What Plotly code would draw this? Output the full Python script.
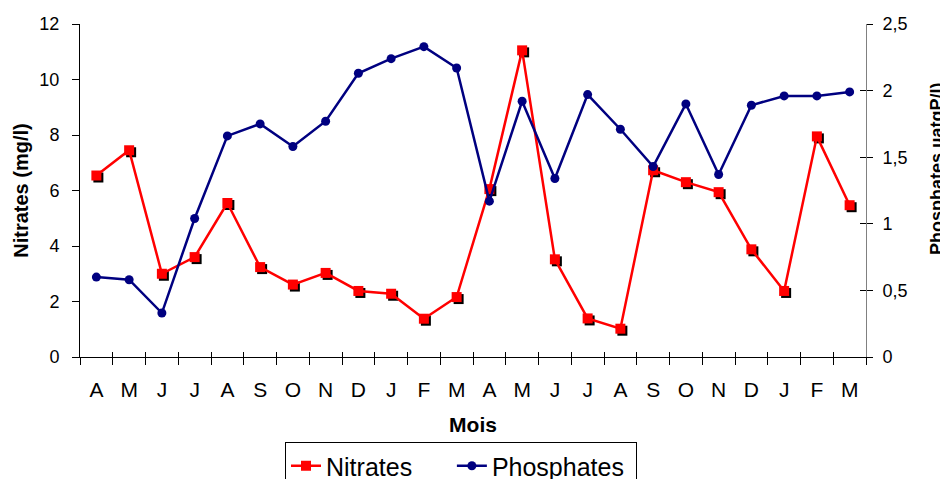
import plotly.graph_objects as go

months = ["A", "M", "J", "J", "A", "S", "O", "N", "D", "J", "F", "M",
          "A", "M", "J", "J", "A", "S", "O", "N", "D", "J", "F", "M"]
nitrates = [6.54, 7.45, 3.00, 3.60, 5.55, 3.24, 2.61, 3.03, 2.38, 2.28, 1.38, 2.16,
            6.05, 11.05, 3.52, 1.39, 1.02, 6.73, 6.30, 5.94, 3.88, 2.38, 7.95, 5.47]
phosphates = [0.60, 0.58, 0.33, 1.04, 1.66, 1.75, 1.58, 1.77, 2.13, 2.24, 2.33, 2.17,
              1.17, 1.92, 1.34, 1.97, 1.71, 1.43, 1.90, 1.37, 1.89, 1.96, 1.96, 1.99]
left_ticks = [0, 2, 4, 6, 8, 10, 12]
right_ticks = [0, 0.5, 1, 1.5, 2, 2.5]
right_ticktext = ["0", "0,5", "1", "1,5", "2", "2,5"]

FONT = "Liberation Sans, Arial, sans-serif"
OFF = 8  # page body margin in the browser
W, H = 948 - OFF, 479 - OFF
ML, MR, MT, MB = 80 - OFF, 80, 24 - OFF, 120
pw, ph = W - ML - MR, H - MT - MB
dx, dy = 2 / pw, 2 / ph
NB = "\u00a0"


def px_x(sx):
    return (sx - 80) / pw


def px_y(sy):
    return (359 - sy) / ph


n = len(months)
xs = list(range(n))
bounds = [i - 0.5 for i in range(n + 1)]
xr = [-0.5, n - 0.5]

fig = go.Figure()
# shadow of nitrate markers
fig.add_trace(go.Scatter(x=xs, y=nitrates, mode="markers", xaxis="x", yaxis="y",
                         marker=dict(symbol="square", size=10, color="black"),
                         showlegend=False, hoverinfo="skip"))
fig.add_trace(go.Scatter(x=xs, y=nitrates, mode="lines+markers", name="Nitrates" + NB * 5,
                         xaxis="x2", yaxis="y2",
                         line=dict(color="#FF0000", width=2.5),
                         marker=dict(symbol="square", size=10, color="#FF0000")))
fig.add_trace(go.Scatter(x=xs, y=phosphates, mode="lines+markers", name="Phosphates" + NB,
                         xaxis="x2", yaxis="y3",
                         line=dict(color="#000080", width=2.5),
                         marker=dict(symbol="circle", size=9, color="#000080")))
# helper traces so tick-only axes are drawn
for xa, ya in [("x4", "y2"), ("x5", "y2"), ("x2", "y6")]:
    fig.add_trace(go.Scatter(x=[None], y=[None], xaxis=xa, yaxis=ya,
                             showlegend=False, hoverinfo="skip"))

tickfont = dict(family=FONT, size=18, color="black")

fig.update_layout(
    width=W, height=H,
    margin=dict(l=ML, r=MR, t=MT, b=MB, autoexpand=False),
    paper_bgcolor="white", plot_bgcolor="rgba(0,0,0,0)",
    font=dict(family=FONT, color="black"),
    xaxis=dict(domain=[dx, 1], range=xr, visible=False, anchor="y"),
    yaxis=dict(domain=[0, 1 - dy], range=[0, 12], visible=False, anchor="x"),
    xaxis2=dict(domain=[0, 1 - dx], range=xr, anchor="y2", automargin=False,
                tickmode="array", tickvals=xs, ticktext=months, ticks="",
                ticklabelstandoff=14,
                tickfont=dict(family=FONT, size=21, color="black"),
                showline=True, linecolor="black", linewidth=1,
                showgrid=False, zeroline=False,
                title=dict(text="<b>Mois</b>", font=dict(family=FONT, size=21, color="black"),
                           standoff=17)),
    xaxis4=dict(overlaying="x2", anchor="y2", range=xr, tickmode="array", tickvals=bounds,
                ticks="outside", ticklen=7, tickcolor="black", tickwidth=1, automargin=False,
                showticklabels=False, showline=False, showgrid=False, zeroline=False),
    xaxis5=dict(overlaying="x2", anchor="y2", range=xr, tickmode="array", tickvals=bounds,
                ticks="inside", ticklen=5, tickcolor="black", tickwidth=1, automargin=False,
                showticklabels=False, showline=False, showgrid=False, zeroline=False),
    yaxis2=dict(domain=[dy, 1], range=[0, 12], anchor="x2", automargin=False,
                tickmode="array", tickvals=left_ticks,
                ticks="outside", ticklen=7, tickcolor="black",
                tickfont=tickfont, ticklabelstandoff=9,
                showline=True, linecolor="black", linewidth=1,
                showgrid=False, zeroline=False,
                title=dict(text="<b>Nitrates (mg/l)</b>",
                           font=dict(family=FONT, size=20, color="black"), standoff=5)),
    yaxis3=dict(overlaying="y2", side="right", anchor="x2", range=[0, 2.5], automargin=False,
                tickmode="array", tickvals=right_ticks, ticktext=right_ticktext,
                ticks="outside", ticklen=6, tickcolor="black",
                tickfont=tickfont, ticklabelstandoff=6,
                showline=True, linecolor="#808080", linewidth=1,
                showgrid=False, zeroline=False),
    yaxis6=dict(overlaying="y2", side="right", anchor="x2", range=[0, 2.5], automargin=False,
                tickmode="array", tickvals=right_ticks,
                ticks="inside", ticklen=6, tickcolor="black",
                showticklabels=False, showline=False, showgrid=False, zeroline=False),
    legend=dict(orientation="h", x=px_x(461), xanchor="center",
                y=px_y(442), yanchor="top",
                bordercolor="black", borderwidth=1, bgcolor="white",
                font=dict(family=FONT, size=25, color="black"),
                itemwidth=30),
    annotations=[dict(text="<b>Phosphates µatgP/l)</b>", textangle=-90,
                      xref="paper", yref="paper", x=px_x(937), y=px_y(169),
                      xanchor="center", yanchor="middle", showarrow=False,
                      font=dict(family=FONT, size=18, color="black"))],
)

fig.write_html("out.html")
